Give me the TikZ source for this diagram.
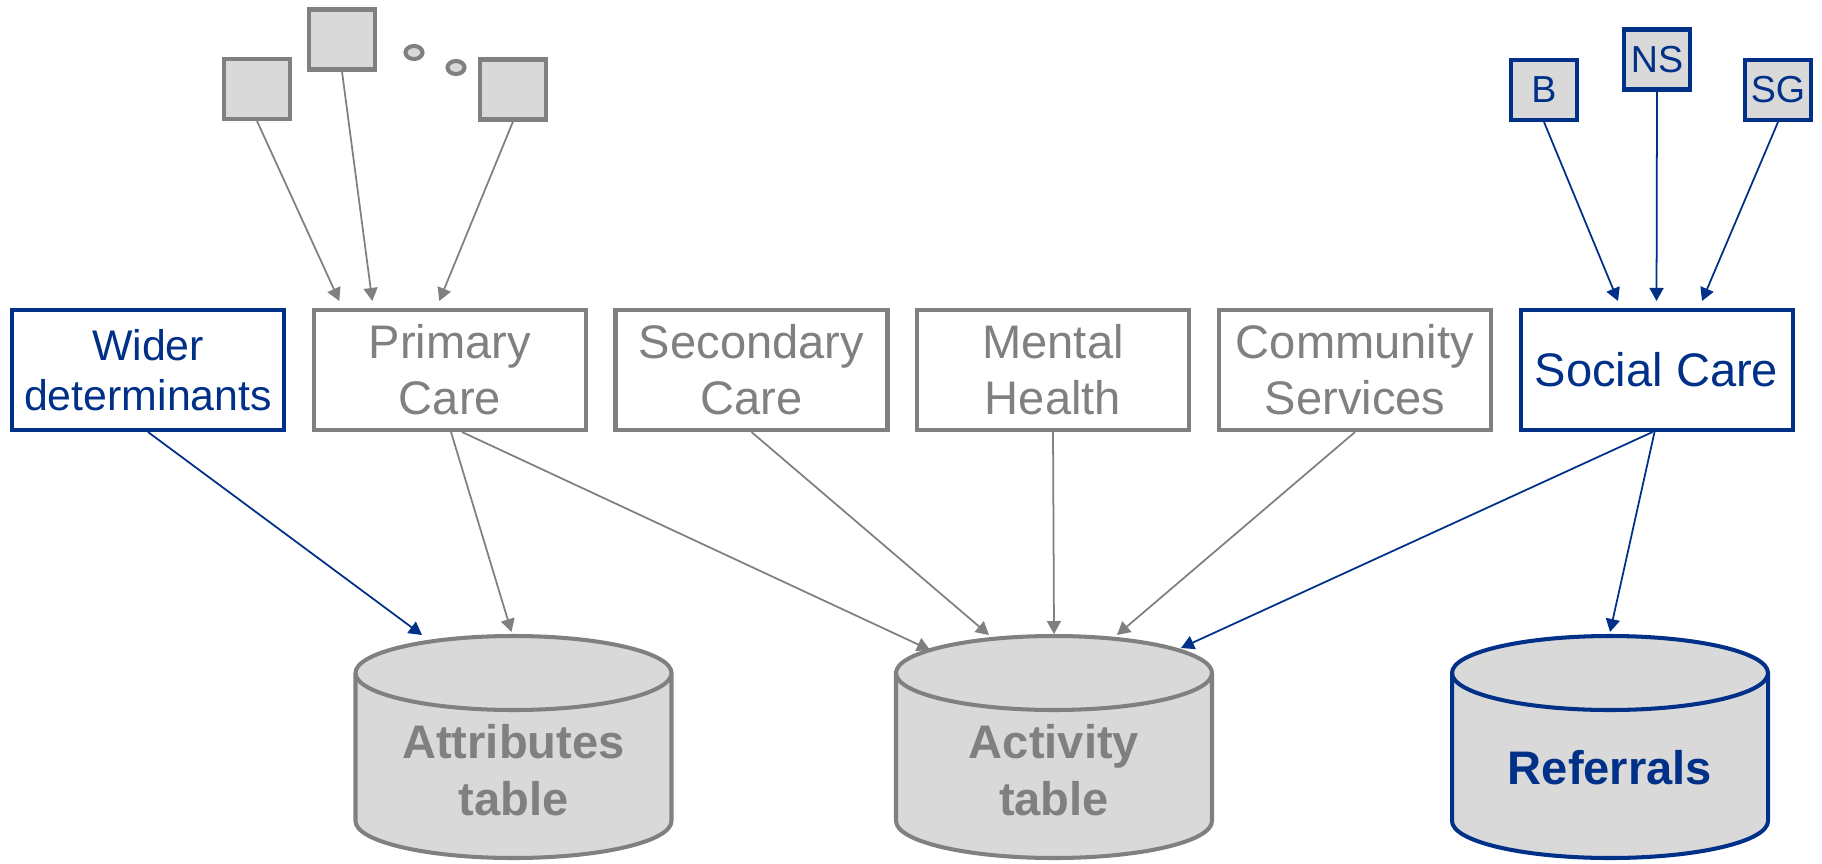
\documentclass[tikz,border=0pt]{standalone}
\usepackage{fontspec}
\setmainfont{Liberation Sans}
\usetikzlibrary{arrows.meta,shapes.geometric}

\definecolor{nhsblue}{RGB}{0,48,135}
\definecolor{linegrey}{RGB}{128,128,128}
\definecolor{drumfill}{RGB}{217,217,217}

\begin{document}
\begin{tikzpicture}[
    srcbox/.style={rectangle,draw,line width=1.15pt,fill=white,minimum width=2.72cm,minimum height=1.20cm,inner sep=0pt,align=center,font=\fontsize{13.4}{16}\selectfont},
    tinybox/.style={rectangle,draw,line width=1.15pt,fill=drumfill,minimum width=0.66cm,minimum height=0.60cm,inner sep=0pt,font=\fontsize{10.7}{12}\selectfont},
    dotmark/.style={ellipse,draw=linegrey,fill=drumfill,line width=1.15pt,minimum width=0.17cm,minimum height=0.13cm,inner sep=0pt},
    drum/.style={line width=1.15pt,fill=drumfill},
    drumtext/.style={align=center,font=\bfseries\fontsize{13.4}{16.3}\selectfont},
    feed/.style={line width=0.5pt,-{Triangle[length=1.3mm,width=1.4mm]}}
  ]
  \useasboundingbox (0,0) rectangle (18.22,-8.63);

  % tables
  \foreach \x/\n/\c in {5.135/attr/linegrey, 10.54/act/linegrey, 16.10/ref/nhsblue} {
    \filldraw[drum,draw=\c] (\x-1.58,-6.73) -- (\x-1.58,-8.21)
      arc[start angle=180,end angle=360,x radius=1.58,y radius=0.37]
      -- (\x+1.58,-6.73) arc[start angle=0,end angle=180,x radius=1.58,y radius=0.37] -- cycle;
    \draw[drum,fill=none,draw=\c] (\x-1.58,-6.73) arc[start angle=180,end angle=360,x radius=1.58,y radius=0.37];
    \coordinate (\n) at (\x,-6.36);
  }

  \begin{scope}[every node/.style=drumtext]
    \node[text=linegrey] (attrtext) at (5.135,-7.70) {Attributes\\table};
    \node[text=linegrey] (acttext)  at (10.54,-7.70) {Activity\\table};
    \node[text=nhsblue]  (reftext)  at (16.10,-7.68) {Referrals};
  \end{scope}

  % sources
  \begin{scope}[every node/.style=srcbox]
    \node[draw=nhsblue,text=nhsblue,font=\fontsize{12.2}{14.2}\selectfont] (wider) at (1.48,-3.70) {Wider\\determinants};
    \node[draw=linegrey,text=linegrey] (primary)   at (4.50,-3.70)   {Primary\\Care};
    \node[draw=linegrey,text=linegrey] (secondary) at (7.515,-3.70)  {Secondary\\Care};
    \node[draw=linegrey,text=linegrey] (mental)    at (10.53,-3.70)  {Mental\\Health};
    \node[draw=linegrey,text=linegrey] (community) at (13.55,-3.70)  {Community\\Services};
    \node[draw=nhsblue,text=nhsblue]   (social)    at (16.565,-3.70) {Social Care};
  \end{scope}

  \begin{scope}[every node/.style=tinybox]
    \node[draw=linegrey] (gp1) at (2.57,-0.89)  {};
    \node[draw=linegrey] (gp2) at (3.42,-0.395) {};
    \node[draw=linegrey] (gp3) at (5.13,-0.895) {};
    \node[draw=nhsblue,text=nhsblue] (b)  at (15.44,-0.90) {B};
    \node[draw=nhsblue,text=nhsblue] (ns) at (16.57,-0.595) {NS};
    \node[draw=nhsblue,text=nhsblue] (sg) at (17.78,-0.90) {SG};
  \end{scope}
  \node[dotmark] (dot1) at (4.14,-0.525) {};
  \node[dotmark] (dot2) at (4.56,-0.675) {};

  \begin{scope}[every edge/.style={draw,feed,linegrey}]
    \path (gp1.south) edge ([xshift=-11.07mm,yshift=0.7mm]primary.north);
    \path (gp2.south) edge ([xshift=-7.77mm,yshift=0.7mm]primary.north);
    \path (gp3.south) edge ([xshift=-1.07mm,yshift=0.7mm]primary.north);
    \path ([xshift=0.1mm]primary.south) edge ([xshift=-0.2mm,yshift=0.4mm]attr);
    \path ([xshift=1.2mm]primary.south) edge ([xshift=-12.4mm,yshift=-1.4mm]act);
    \path (secondary.south) edge ([xshift=-6.5mm,yshift=0.1mm]act);
    \path (mental.south) edge ([yshift=0.2mm]act);
    \path (community.south) edge ([xshift=6.3mm,yshift=0.1mm]act);
  \end{scope}

  \begin{scope}[every edge/.style={draw,feed,nhsblue}]
    \path (b.south) edge ([xshift=-3.85mm,yshift=0.7mm]social.north);
    \path (ns.south) edge ([yshift=0.7mm]social.north);
    \path (sg.south) edge ([xshift=4.55mm,yshift=0.7mm]social.north);
    \path (wider.south) edge ([xshift=-9.15mm,yshift=0.1mm]attr);
    \path ([xshift=-0.4mm]social.south) edge ([xshift=12.7mm,yshift=-1.2mm]act);
    \path ([xshift=-0.2mm]social.south) edge ([yshift=0.4mm]ref);
  \end{scope}

\end{tikzpicture}
\end{document}
